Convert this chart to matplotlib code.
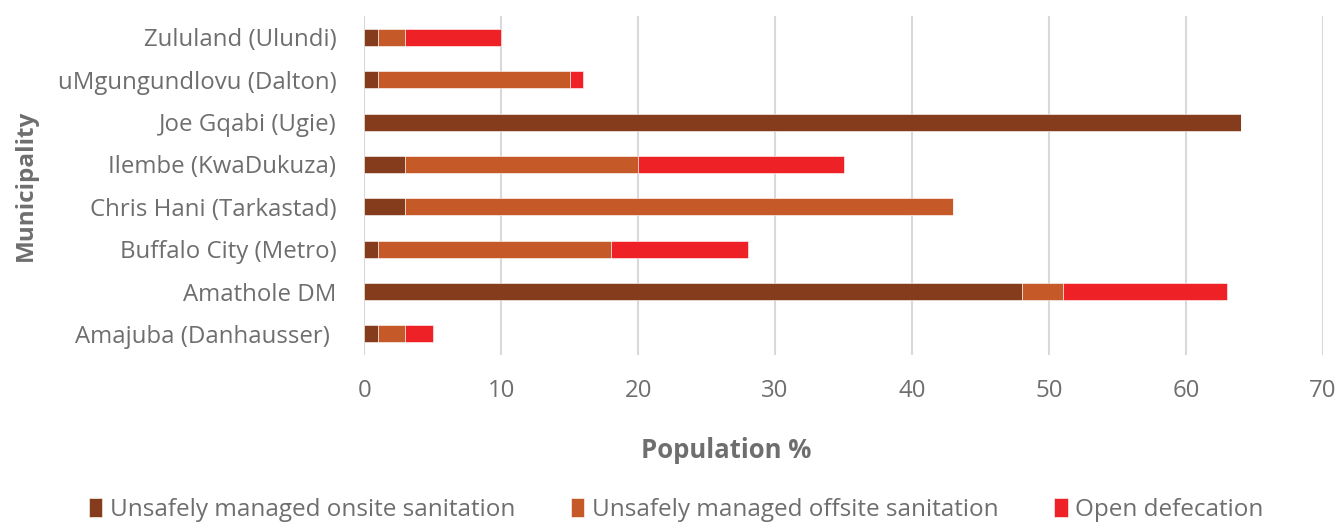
import numpy as np
import matplotlib.pyplot as plt

# Data (population %)
municipalities = ['Amajuba (Danhausser) ', 'Amathole DM', 'Buffalo City (Metro)',
                  'Chris Hani (Tarkastad)', 'Ilembe (KwaDukuza)', 'Joe Gqabi (Ugie)',
                  'uMgungundlovu (Dalton)', 'Zululand (Ulundi)']
onsite = [1, 48, 1, 3, 3, 64, 1, 1]
offsite = [2, 3, 17, 40, 17, 0, 14, 2]
open_defecation = [2, 12, 10, 0, 15, 0, 1, 7]

series_names = ['Unsafely managed onsite sanitation',
                'Unsafely managed offsite sanitation',
                'Open defecation']
colors = ['#843C1C', '#C55A28', '#EE2226']
grey = '#6E6E6E'

plt.rcParams['font.family'] = ['Open Sans', 'DejaVu Sans']

fig = plt.figure(figsize=(13.39, 5.23), dpi=100)
ax = fig.add_axes([0.272, 0.321, 0.716, 0.648])

y = np.arange(len(municipalities))
left = np.zeros(len(municipalities))
for vals, name, c in zip([onsite, offsite, open_defecation], series_names, colors):
    vals = np.array(vals, dtype=float)
    ax.barh(y, vals, left=left, height=0.4, color=c, label=name,
            edgecolor='white', linewidth=0.4)
    left += vals

ax.set_xlim(0, 70)
ax.set_ylim(-0.5, 7.5)
ax.set_xticks(np.arange(0, 71, 10))
ax.set_yticks(y)
ax.set_yticklabels(municipalities)
ax.grid(axis='x', color='#D9D9D9', linewidth=1.5)
ax.set_axisbelow(True)
for s in ax.spines.values():
    s.set_visible(False)
ax.tick_params(axis='both', length=0, labelsize=17.3, labelcolor=grey)
ax.tick_params(axis='x', pad=17)
ax.tick_params(axis='y', pad=20)

ax.set_xlabel('Population %', fontsize=18.5, fontweight='bold', color=grey)
ax.xaxis.set_label_coords(0.378, -0.243)
ax.set_ylabel('Municipality', fontsize=17.5, fontweight='bold', color=grey, labelpad=14)

fig.legend(loc='lower center', bbox_to_anchor=(0.505, -0.04), ncol=3, frameon=False,
           fontsize=17.5, labelcolor=grey, handlelength=0.55, handleheight=0.85,
           handletextpad=0.3, columnspacing=2.3)

fig.savefig('out.png', dpi=100)
